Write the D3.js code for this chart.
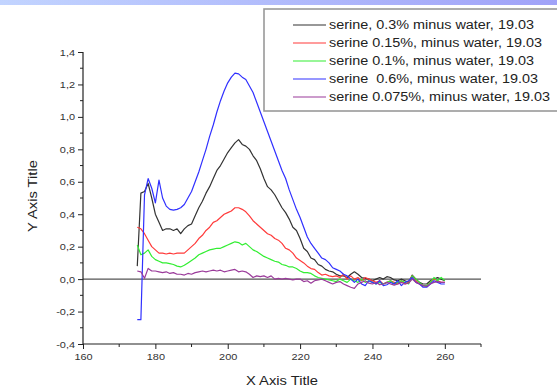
<!DOCTYPE html>
<html><head><meta charset="utf-8">
<script src="https://cdn.jsdelivr.net/npm/d3@7"></script>
<style>body{margin:0;background:#fff;}svg{display:block;font-family:"Liberation Sans",Arial,sans-serif;}</style>
</head><body>
<svg id="c" width="557" height="389"></svg>
<script>
const wavelength = [175,176,177,178,179,180,181,182,183,184,185,186,187,188,189,190,191,192,193,194,195,196,197,198,199,200,201,202,203,204,205,206,207,208,209,210,211,212,213,214,215,216,217,218,219,220,221,222,223,224,225,226,227,228,229,230,231,232,233,234,235,236,237,238,239,240,241,242,243,244,245,246,247,248,249,250,251,252,253,254,255,256,257,258,259,260];
const serine03 = [0.08,0.53,0.54,0.59,0.50,0.40,0.35,0.30,0.31,0.31,0.30,0.31,0.28,0.31,0.33,0.34,0.39,0.44,0.48,0.53,0.57,0.62,0.67,0.70,0.74,0.78,0.81,0.84,0.86,0.83,0.82,0.80,0.76,0.73,0.68,0.62,0.57,0.55,0.52,0.48,0.44,0.41,0.37,0.32,0.30,0.25,0.19,0.17,0.13,0.12,0.09,0.08,0.06,0.05,0.045,0.03,0.02,0.02,0.01,0.03,0.045,0.03,0.01,0.005,0.0,-0.01,0.0,0.01,0.0,0.015,0.01,-0.005,-0.01,0.0,-0.01,-0.02,0.025,0.0,-0.02,-0.03,-0.03,-0.01,0.0,0.01,0.0,-0.01];
const serine015 = [0.32,0.31,0.28,0.24,0.20,0.18,0.16,0.16,0.155,0.16,0.155,0.16,0.16,0.16,0.18,0.20,0.22,0.25,0.27,0.30,0.32,0.35,0.36,0.38,0.40,0.41,0.42,0.44,0.44,0.43,0.415,0.39,0.36,0.34,0.32,0.30,0.28,0.27,0.25,0.24,0.22,0.19,0.18,0.16,0.13,0.115,0.10,0.08,0.065,0.06,0.04,0.025,0.03,0.02,0.015,0.02,0.01,0.03,0.0,0.02,0.0,0.01,-0.01,0.01,0.0,-0.01,-0.02,-0.01,-0.03,-0.02,-0.01,-0.02,-0.03,-0.01,-0.03,-0.02,0.02,-0.01,-0.03,-0.04,-0.04,-0.02,0.0,-0.01,-0.02,-0.02];
const serine01 = [0.21,0.15,0.16,0.18,0.14,0.12,0.11,0.10,0.10,0.095,0.09,0.08,0.075,0.085,0.10,0.115,0.13,0.15,0.16,0.17,0.18,0.185,0.19,0.19,0.20,0.21,0.22,0.23,0.225,0.21,0.22,0.20,0.18,0.17,0.155,0.14,0.13,0.12,0.11,0.105,0.09,0.085,0.075,0.075,0.065,0.05,0.04,0.04,0.035,0.02,0.01,0.005,0.0,-0.005,-0.01,-0.015,0.0,-0.01,-0.02,0.0,-0.01,-0.02,0.0,-0.02,-0.01,-0.02,-0.03,-0.02,-0.03,-0.02,-0.01,-0.03,-0.02,-0.01,-0.02,-0.03,0.02,0.0,-0.02,-0.04,-0.04,-0.02,0.01,-0.01,0.01,-0.01];
const serine06 = [-0.25,-0.25,0.52,0.62,0.56,0.47,0.61,0.50,0.45,0.43,0.425,0.43,0.44,0.46,0.50,0.54,0.60,0.66,0.73,0.80,0.88,0.95,1.03,1.10,1.16,1.21,1.245,1.27,1.265,1.245,1.23,1.19,1.15,1.09,1.03,0.97,0.91,0.85,0.79,0.73,0.67,0.62,0.55,0.49,0.43,0.38,0.32,0.26,0.22,0.19,0.16,0.13,0.12,0.10,0.07,0.06,0.05,0.03,0.02,0.0,-0.02,0.0,-0.03,-0.04,-0.01,-0.02,-0.03,-0.01,-0.04,-0.035,-0.02,-0.03,-0.01,-0.04,-0.02,-0.01,0.01,-0.02,-0.03,-0.05,-0.05,-0.03,-0.01,-0.02,-0.03,-0.03];
const serine0075 = [0.05,0.045,0.005,0.066,0.05,0.05,0.045,0.04,0.045,0.035,0.04,0.03,0.03,0.025,0.035,0.03,0.04,0.045,0.05,0.045,0.05,0.055,0.05,0.055,0.045,0.05,0.055,0.06,0.045,0.05,0.045,0.03,0.01,0.02,0.015,0.02,0.01,0.02,0.0,0.005,0.0,0.005,0.0,-0.005,0.0,0.0,-0.015,-0.01,-0.025,-0.01,-0.005,0.0,-0.01,-0.02,-0.03,-0.02,-0.015,-0.03,-0.04,-0.05,-0.057,-0.03,-0.02,-0.01,-0.025,-0.03,-0.02,-0.035,-0.03,-0.02,-0.03,-0.037,-0.03,-0.02,-0.03,-0.025,0.0,-0.02,-0.03,-0.04,-0.045,-0.03,-0.02,-0.015,-0.02,-0.02];
const seriesNames = ["serine, 0.3% minus water, 19.03","serine 0.15%, minus water, 19.03","serine 0.1%, minus water, 19.03","serine  0.6%, minus water, 19.03","serine 0.075%, minus water, 19.03"];
const seriesValues = [serine03, serine015, serine01, serine06, serine0075];
const seriesColors = ["#333333","#ff3b3b","#33ee33","#3030ff","#9a3a9a"];
const xTickLabels = [160,180,200,220,240,260];
const yTickLabels = [-0.4,-0.2,0.0,0.2,0.4,0.6,0.8,1.0,1.2,1.4];

function stretch(sel, f){
  sel.each(function(){
    const w = this.getComputedTextLength();
    d3.select(this).attr("textLength", w*(f||1.18)).attr("lengthAdjust","spacingAndGlyphs");
  });
}

const svg = d3.select("#c");
const defs = svg.append("defs");
const grad = defs.append("linearGradient").attr("id","topbar");
grad.append("stop").attr("offset","0%").attr("stop-color","#c2d4ff");
grad.append("stop").attr("offset","100%").attr("stop-color","#a0a2f8");
svg.append("rect").attr("x",0).attr("y",0).attr("width",557).attr("height",5).attr("fill","url(#topbar)");

const x = d3.scaleLinear().domain([160,270]).range([83,481]);
const y = d3.scaleLinear().domain([-0.4,1.4]).range([344,52]);
const fmt = v => d3.format(".1f")(v).replace(".",",").replace("−","-");

svg.append("line").attr("x1",x(160)).attr("x2",x(270)).attr("y1",y(0)).attr("y2",y(0))
  .attr("stroke","#555").attr("stroke-width",1.2);

const line = d3.line().x((d,i)=>x(wavelength[i])).y(d=>y(d));
seriesValues.forEach((vals,k)=>{
  svg.append("path").datum(vals).attr("d",line).attr("fill","none")
    .attr("stroke",seriesColors[k]).attr("stroke-width",1.2).attr("stroke-linejoin","round");
});

const xAxis = d3.axisBottom(x).tickValues(xTickLabels).tickSize(5).tickFormat(d=>d);
const gx = svg.append("g").attr("transform",`translate(0,${y(-0.4)})`).call(xAxis);
gx.append("g").selectAll("line").data([170,190,210,230,250,270]).join("line")
  .attr("x1",d=>x(d)).attr("x2",d=>x(d)).attr("y1",0).attr("y2",3).attr("stroke","#222");
const yAxis = d3.axisLeft(y).tickValues(yTickLabels).tickSize(5).tickFormat(fmt);
const gy = svg.append("g").attr("transform",`translate(${x(160)},0)`).call(yAxis);
gy.append("g").selectAll("line").data([-0.3,-0.1,0.1,0.3,0.5,0.7,0.9,1.1,1.3]).join("line")
  .attr("x1",0).attr("x2",-3).attr("y1",d=>y(d)).attr("y2",d=>y(d)).attr("stroke","#222");
[gx,gy].forEach(g=>{
  g.select(".domain").attr("stroke","#222").attr("stroke-width",1.2);
  g.selectAll(".tick line").attr("stroke","#222");
  g.selectAll(".tick text").attr("font-size",9.5).attr("fill","#333").attr("font-family","Liberation Sans, Arial, sans-serif");
});
gx.select(".domain").attr("d",`M${x(160)},0H${x(270)}`);
gy.select(".domain").attr("d",`M0,${y(-0.4)}V${y(1.4)}`);
gx.selectAll(".tick text").attr("dy","0.85em");
gy.selectAll(".tick text").attr("x",-8);
stretch(gx.selectAll(".tick text"), 1.15);
stretch(gy.selectAll(".tick text"), 1.15);

svg.append("text").attr("x",282).attr("y",385).attr("text-anchor","middle").attr("font-size",12.5).attr("fill","#222").text("X Axis Title").call(stretch, 1.18);
svg.append("text").attr("transform","translate(37,196) rotate(-90)").attr("text-anchor","middle").attr("font-size",12.5).attr("fill","#222").text("Y Axis Title").call(stretch, 1.18);

svg.append("rect").attr("x",264).attr("y",9).attr("width",300).attr("height",102)
  .attr("fill","#fff").attr("stroke","#999").attr("stroke-width",1.6);
const lg = svg.append("g");
seriesNames.forEach((n,k)=>{
  const yy = 25 + k*18;
  lg.append("line").attr("x1",293).attr("x2",326).attr("y1",yy).attr("y2",yy).attr("stroke",seriesColors[k]).attr("stroke-width",1.2);
  lg.append("text").attr("x",329).attr("y",yy+4.3).attr("font-size",12).attr("fill","#222").attr("xml:space","preserve").style("white-space","pre").text(n).call(stretch, 1.2);
});
</script>
</body></html>
